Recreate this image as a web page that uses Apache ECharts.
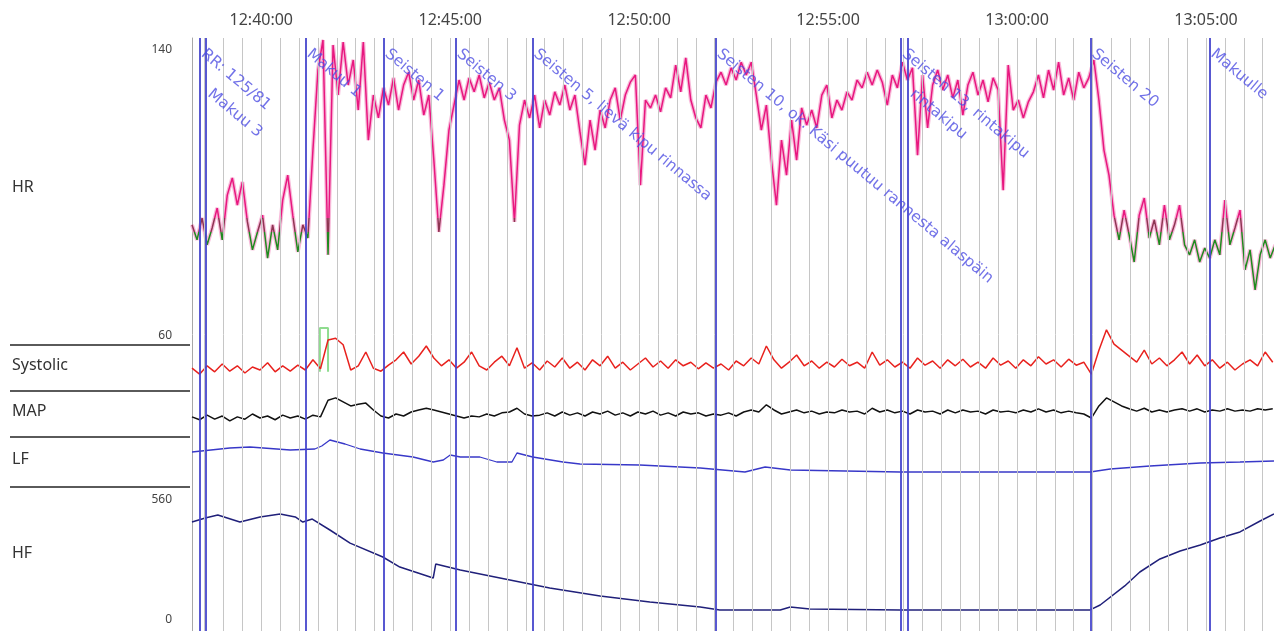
<!DOCTYPE html>
<html><head><meta charset="utf-8">
<script src="https://cdn.jsdelivr.net/npm/echarts@6/dist/echarts.min.js"></script>
<style>html,body{margin:0;padding:0;background:#fff}#c{width:1274px;height:631px}</style>
</head><body><div id="c"></div>
<script>
// ---- time range / ticks ----
const X_START = "12:38:10";
const X_END = "13:06:48";
const TICK_TIMES = ["12:40:00","12:45:00","12:50:00","12:55:00","13:00:00","13:05:00"];
const GRID_FIRST = "12:38:30";
const GRID_STEP_S = 30;

// ---- events ----
const EVENT_TIMES = ["12:38:23","12:38:32","12:41:11","12:43:15","12:45:09","12:47:11","12:52:02","12:56:56","12:57:07","13:01:57","13:05:06"];
const EVENT_LABELS = ["RR: 125/81","Makuu 3","Makuu 1","Seisten 1","Seisten 3","Seisten 5, lievä kipu rinnassa","Seisten 10, ok. Käsi puutuu rannesta alaspäin","Seisten 13, rintakipu","rintakipu","Seisten 20","Makuulle"];
const EVENT_ROW = [0,1,0,0,0,0,0,0,1,0,0];

// ---- HR (bpm), sampled every 8 s from HR_START ----
const HR_START = "12:38:10";
const HR_STEP_S = 8;
const HR_VALUES = [91.1,86.9,93.0,85.5,90.2,95.8,86.9,99.4,104.2,96.6,
103.1,91.9,84.1,89.1,93.8,81.8,91.1,84.1,98.0,105.0,
93.8,83.5,91.1,87.4,112.0,134.4,142.8,82.7,141.4,127.4,
142.2,130.2,137.2,123.2,142.2,114.8,127.4,121.0,129.4,124.6,
132.2,123.2,130.2,133.8,126.0,131.6,121.8,127.4,109.2,89.1,
102.2,117.6,124.6,131.6,126.0,132.2,128.3,133.0,126.6,131.0,
126.0,129.4,120.4,114.8,91.9,119.0,126.0,121.0,127.4,118.2,
126.0,121.8,128.3,124.6,130.2,123.2,127.4,117.1,107.8,120.4,
112.0,123.2,118.2,126.0,129.4,120.4,127.4,131.0,133.0,102.2,
126.0,123.8,127.4,122.7,129.4,126.6,135.8,128.3,137.8,126.0,
121.0,118.2,127.4,123.8,131.0,133.8,130.2,135.0,131.6,136.6,
133.0,136.6,127.4,117.6,124.6,109.2,96.6,114.8,105.0,120.4,
109.2,123.8,119.0,123.2,118.2,127.4,130.2,121.0,126.0,123.2,
128.3,126.0,131.6,129.4,133.8,130.2,134.4,131.0,124.6,133.0,
129.4,136.6,131.6,135.0,110.6,133.0,118.2,130.2,134.4,128.8,
133.0,126.6,131.6,121.8,130.2,133.8,127.4,131.6,125.5,132.2,
128.8,100.8,135.8,123.2,126.0,121.0,125.5,128.3,133.0,126.6,
134.4,128.8,136.6,127.4,132.2,126.0,133.8,129.4,132.2,137.2,
126.0,112.0,105.0,93.8,86.9,95.2,88.3,80.7,93.8,98.6,
87.4,92.5,85.5,96.6,86.9,91.1,96.6,85.5,82.7,86.9,
80.7,84.6,81.8,86.9,82.7,98.0,85.5,90.2,95.2,78.5,
84.1,72.9,82.7,86.9,81.8,85.5];

// ---- Systolic & MAP (mmHg), sampled every 12 s ----
const BP_START = "12:38:10";
const BP_STEP_S = 12;
const SYS_VALUES = [118,108,122,112,125,113,122,110,120,115,
127,112,122,113,123,115,132,117,165,168,
157,115,122,145,118,113,123,132,145,125,
138,155,135,122,132,118,128,145,122,115,
128,138,122,152,118,127,115,130,120,135,
118,128,115,132,122,138,118,128,115,125,
135,120,130,118,132,122,128,117,127,118,
125,115,130,122,135,125,155,132,118,128,
140,122,130,118,128,120,133,122,128,118,
145,123,132,120,128,118,135,123,130,118,
132,122,133,120,128,118,135,123,130,118,
132,122,137,125,132,120,133,123,128,108,
148,182,158,148,138,128,148,125,135,122,
132,145,125,140,122,132,118,128,115,125,
132,122,145,128];
const MAP_VALUES = [85,80,88,81,86.5,78,85,81,90,83,
86.5,80,88,83,86.5,81,88,85,114,118,
111,104,107,109,97,86.5,83,90,86.5,93.5,
97,100,97,93.5,90,86.5,83,86.5,85,90,
86.5,92,93.5,100,90,86.5,88,92,86.5,93.5,
88,92,86.5,93.5,90,95,88,92,86.5,93.5,
90,95,88,92,86.5,93.5,90,92,86.5,90,
88,92,86.5,93.5,97,93.5,106,97,90,93.5,
97,92,95,90,93.5,92,97,93.5,95,90,
100,93.5,97,92,95,90,97,93.5,95,90,
97,92,97,93.5,95,90,97,93.5,95,92,
97,93.5,99,93.5,97,92,95,92,90,83,
104,118,111,104,99,95,100,93.5,97,93.5,
97,99,95,99,93.5,97,95,99,95,97,
95,99,97,99];
// artifact marker on systolic
const SYS_ART_TIMES = ["12:41:33","12:41:33","12:41:46","12:41:46"];
const SYS_ART_VALUES = [112,185,185,112];

// ---- LF / HF ----
const LF_TIMES = ["12:38:10","12:39:10","12:39:42","12:40:46","12:41:25","12:41:36","12:41:49","12:42:13","12:42:37","12:43:13","12:44:01","12:44:33","12:44:49","12:45:00","12:45:16","12:45:47","12:46:14","12:46:38","12:46:46","12:47:11","12:47:59","12:48:26","12:50:01","12:51:37","12:52:48","12:53:20","12:54:00","12:56:54","13:01:56","13:02:28","13:03:31","13:04:51","13:05:54","13:06:48"];
const LF_VALUES = [1400,1560,1600,1480,1520,1640,1880,1720,1520,1360,1200,1000,1080,1280,1200,1200,1000,1000,1360,1200,1000,920,880,760,600,800,680,600,600,720,840,960,1000,1040];
const HF_TIMES = ["12:38:10","12:38:31","12:38:51","12:39:26","12:39:58","12:40:30","12:40:54","12:41:06","12:41:21","12:41:49","12:42:21","12:43:13","12:43:40","12:44:33","12:44:37","12:45:16","12:46:19","12:47:38","12:48:58","12:50:17","12:51:37","12:52:08","12:53:44","12:54:00","12:54:31","12:56:54","13:01:56","13:02:12","13:02:51","13:03:15","13:03:47","13:04:19","13:04:51","13:05:22","13:05:54","13:06:26","13:06:48"];
const HF_VALUES = [457,476,490,457,481,495,481,457,471,420,359,294,247,196,261,233,196,149,112,84,61,47,47,61,51,47,47,70,159,224,285,322,350,383,411,462,495];

const HR_RANGE = [60,140];
const HF_RANGE = [0,560];
const ROW_NAMES = ["HR","Systolic","MAP","LF","HF"];

// ---- helpers ----
function sec(s){const p=s.split(':').map(Number);return p[0]*3600+p[1]*60+p[2];}
function pad(n){return (n<10?'0':'')+n;}
function fmt(v){v=Math.round(v);return Math.floor(v/3600)+':'+pad(Math.floor(v/60)%60)+':'+pad(v%60);}
function regular(start, step, vals){const t0=sec(start);return vals.map((v,i)=>[t0+i*step,v]);}
function paired(times, vals){return times.map((t,i)=>[sec(t),vals[i]]);}

const xMin = sec(X_START), xMax = sec(X_END);
const gridTimes = [];
for(let t=sec(GRID_FIRST); t<=xMax; t+=GRID_STEP_S) gridTimes.push(t);

const FONT = 'Noto Sans';
const L = 192;
const grids = [
  {left:L,right:0,top:38,bottom:0},          // background
  {left:L,right:0,top:50,height:286},        // HR
  {left:L,right:0,top:325,height:66},        // Systolic
  {left:L,right:0,top:391,height:46},        // MAP
  {left:L,right:0,top:437,height:50},        // LF
  {left:L,right:0,top:500,height:120}        // HF
];
const xAxes = grids.map((g,i)=>({
  type:'value', gridIndex:i, min:xMin, max:xMax, show:i===0, position:'top',
  axisLine:{show:true,lineStyle:{color:'#9a9a9a',width:1}},
  axisTick:{show:true,length:8,customValues:TICK_TIMES.map(sec),lineStyle:{color:'#555'}},
  axisLabel:{show:true,customValues:TICK_TIMES.map(sec),formatter:fmt,fontFamily:FONT,fontSize:16,color:'#444',margin:10},
  splitLine:{show:false}
}));
const hidY = (i,min,max)=>({type:'value',gridIndex:i,min:min,max:max,axisLine:{show:false},axisTick:{show:false},axisLabel:{show:false},splitLine:{show:false}});
const yAxes = [
  {type:'value',gridIndex:0,min:0,max:1,axisLine:{show:true,lineStyle:{color:'#a8a8a8'}},axisTick:{show:false},axisLabel:{show:false},splitLine:{show:false}},
  {type:'value',gridIndex:1,min:HR_RANGE[0],max:HR_RANGE[1],axisLine:{show:false},axisTick:{show:false},splitLine:{show:false},
    axisLabel:{show:true,customValues:HR_RANGE,fontFamily:FONT,fontSize:12,color:'#444',margin:20}},
  hidY(2,80,190), hidY(3,50,130), hidY(4,0,2000),
  {type:'value',gridIndex:5,min:HF_RANGE[0],max:HF_RANGE[1],axisLine:{show:false},axisTick:{show:false},splitLine:{show:false},
    axisLabel:{show:true,customValues:HF_RANGE,fontFamily:FONT,fontSize:12,color:'#444',margin:20}}
];

const hr = regular(HR_START,HR_STEP_S,HR_VALUES);
const series = [
  {type:'line',xAxisIndex:0,yAxisIndex:0,data:[[xMin,0]],symbol:'none',lineStyle:{opacity:0},silent:true,z:1,
   markLine:{symbol:['none','none'],silent:true,animation:false,label:{show:false},
     lineStyle:{color:'#c6c6c6',width:1,type:'solid'},emphasis:{disabled:true},data:gridTimes.map(t=>({xAxis:t}))}},
  {type:'line',xAxisIndex:0,yAxisIndex:0,data:[[xMin,0]],symbol:'none',lineStyle:{opacity:0},silent:true,z:6,
   markLine:{symbol:['none','none'],silent:true,animation:false,label:{show:false},
     lineStyle:{color:'#4646cc',width:2,type:'solid',opacity:0.9},emphasis:{disabled:true},data:EVENT_TIMES.map(t=>({xAxis:sec(t)}))}},
  {type:'scatter',xAxisIndex:0,yAxisIndex:0,symbolSize:0,silent:true,z:10,
   data:EVENT_TIMES.map((t,i)=>({value:[sec(t),1],label:{position:EVENT_ROW[i]?[9,48]:[8,8]},name:EVENT_LABELS[i]})),
   label:{show:true,formatter:p=>p.name,rotate:-40,align:'left',verticalAlign:'top',fontFamily:'DejaVu Sans',fontSize:15.5,color:'#4f4fe2'}},
  {type:'line',xAxisIndex:1,yAxisIndex:1,data:hr,symbol:'none',clip:false,silent:true,z:3,
   lineStyle:{color:'#f6a8d0',width:4,opacity:0.8}},
  {type:'line',xAxisIndex:1,yAxisIndex:1,data:hr,symbol:'none',clip:false,silent:true,z:4,
   lineStyle:{width:1.5}},
  {type:'line',xAxisIndex:2,yAxisIndex:2,data:paired(SYS_ART_TIMES,SYS_ART_VALUES),symbol:'none',silent:true,z:3,
   lineStyle:{color:'#8fdc8f',width:2}},
  {type:'line',xAxisIndex:2,yAxisIndex:2,data:regular(BP_START,BP_STEP_S,SYS_VALUES),symbol:'none',silent:true,z:4,
   lineStyle:{color:'#e8221e',width:1.5}},
  {type:'line',xAxisIndex:3,yAxisIndex:3,data:regular(BP_START,BP_STEP_S,MAP_VALUES),symbol:'none',silent:true,z:4,
   lineStyle:{color:'#111',width:1.5}},
  {type:'line',xAxisIndex:4,yAxisIndex:4,data:paired(LF_TIMES,LF_VALUES),symbol:'none',silent:true,z:4,
   lineStyle:{color:'#3838c8',width:1.3}},
  {type:'line',xAxisIndex:5,yAxisIndex:5,data:paired(HF_TIMES,HF_VALUES),symbol:'none',silent:true,z:4,
   lineStyle:{color:'#20207a',width:1.5}}
];

const graphics = [];
const NAME_Y = [190,368,414,462,556];
ROW_NAMES.forEach((n,i)=>graphics.push({type:'text',left:12,top:NAME_Y[i]-11,style:{text:n,fontFamily:FONT,fontSize:16,fill:'#333'}}));
[345,391,437,487].forEach(y=>graphics.push({type:'line',shape:{x1:10,y1:y,x2:190,y2:y},style:{stroke:'#5a5a5a',lineWidth:2}}));

const chart = echarts.init(document.getElementById('c'),null,{renderer:'canvas'});
chart.setOption({
  animation:false,
  backgroundColor:'#fff',
  grid:grids, xAxis:xAxes, yAxis:yAxes,
  visualMap:{type:'piecewise',show:false,seriesIndex:4,dimension:1,
    pieces:[{lt:89,color:'#1f8b1f'},{gte:89,lt:93,color:'#8e3552'},{gte:93,color:'#e8177f'}]},
  series:series,
  graphic:graphics
});
</script></body></html>
